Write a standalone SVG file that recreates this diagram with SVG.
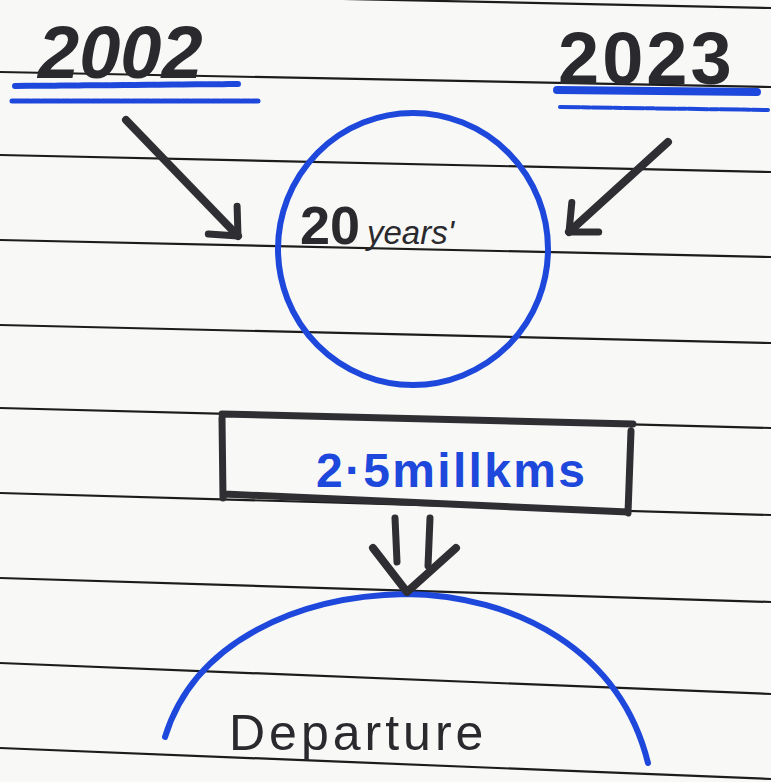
<svg xmlns="http://www.w3.org/2000/svg" width="771" height="782" viewBox="0 0 771 782">
<style>
.rule{stroke:#1c1c1c;stroke-width:2.2;fill:none}
.ink{stroke:#2f2f33;stroke-linecap:round;stroke-linejoin:round;fill:none}
.blue{stroke:#1e48dc;stroke-linecap:round;fill:none}
.hand{font-family:"Liberation Sans",Arial,sans-serif;fill:#2a2a2e}
.bt{font-family:"Liberation Sans",Arial,sans-serif;fill:#1e48dc}
</style>
<defs>
<marker id="chev" markerUnits="userSpaceOnUse" markerWidth="60" markerHeight="60" viewBox="-30 -30 60 60" refX="0" refY="0" orient="auto">
<path d="M -22 -20 L 0 0 L -22 20" stroke="#2f2f33" stroke-width="7" fill="none" stroke-linecap="round" stroke-linejoin="round"/>
</marker>
</defs>
<rect width="771" height="782" fill="#f8f8f6"/>
<g id="paper">
<line class="rule" x1="300" y1="-2" x2="771" y2="8"/>
<line class="rule" x1="0" y1="72" x2="771" y2="87"/>
<line class="rule" x1="0" y1="155" x2="771" y2="172"/>
<line class="rule" x1="0" y1="240" x2="771" y2="257"/>
<line class="rule" x1="0" y1="325" x2="771" y2="343"/>
<line class="rule" x1="0" y1="408" x2="771" y2="428"/>
<line class="rule" x1="0" y1="493" x2="771" y2="515"/>
<line class="rule" x1="0" y1="578" x2="771" y2="602"/>
<line class="rule" x1="0" y1="663" x2="771" y2="694"/>
<line class="rule" x1="0" y1="748" x2="771" y2="779"/>
</g>
<g id="n2002">
<text class="hand" x="38" y="78" font-size="74" font-style="italic" font-weight="bold">2002</text>
<path class="blue" d="M 15 86 L 238 84" stroke-width="6" stroke-dasharray="14 2 6 2"/>
<path class="blue" d="M 12 101 L 258 101" stroke-width="5" stroke-dasharray="18 2 8 2"/>
</g>
<g id="n2023">
<text class="hand" x="558" y="84" font-size="74" font-weight="bold" letter-spacing="3">2023</text>
<path class="blue" d="M 557 90 L 757 92" stroke-width="8"/>
<path class="blue" d="M 560 107 L 768 110" stroke-width="4" stroke-dasharray="20 2 8 2"/>
</g>
<g id="nYears">
<ellipse class="blue" cx="413" cy="249" rx="135" ry="136" stroke-width="6"/>
<text class="hand" x="300" y="244" font-size="54" font-weight="bold">20</text>
<text class="hand" x="367" y="244" font-size="33" font-style="italic">years'</text>
</g>
<g id="nDistance">
<path class="ink" d="M 222 414 L 633 424 M 631 431 L 628 513 M 628 512 L 224 494 M 222 418 L 223 498" stroke-width="7" stroke="#262626"/>
<text class="bt" x="316" y="487" font-size="48" font-weight="bold" letter-spacing="2.3">2·5millkms</text>
</g>
<g id="nDeparture">
<path class="blue" d="M 165 737 C 195 640, 300 596, 405 594 C 515 595, 620 650, 648 763" stroke-width="6"/>
<text class="hand" x="229" y="750" font-size="50" letter-spacing="4">Departure</text>
</g>
<g id="connectors">
<line class="ink" x1="126" y1="120" x2="238" y2="236" stroke-width="8" marker-end="url(#chev)"/>
<line class="ink" x1="668" y1="142" x2="569" y2="232" stroke-width="8" marker-end="url(#chev)"/>
<line class="ink" x1="395" y1="518" x2="397" y2="562" stroke-width="7"/>
<line class="ink" x1="430" y1="518" x2="428" y2="566" stroke-width="7"/>
<path class="ink" d="M 373 548 L 407 592 L 456 548" stroke-width="8"/>
</g>
</svg>
